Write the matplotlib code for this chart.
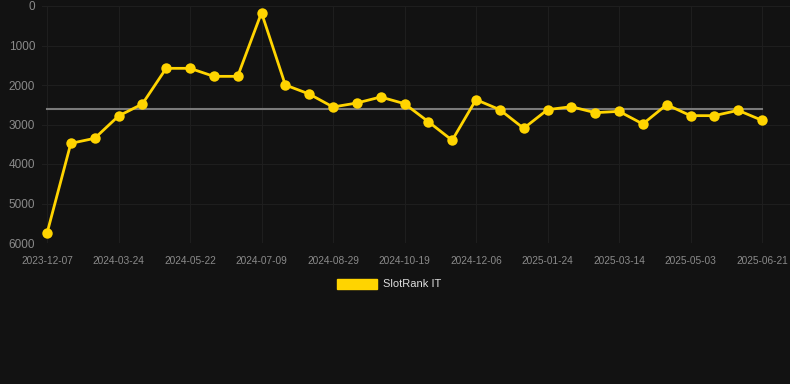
import matplotlib
matplotlib.use("Agg")
import matplotlib.pyplot as plt
from matplotlib.patches import Patch

# Data
ranks = [5755, 3477, 3350, 2785, 2481, 1578, 1578, 1781, 1781, 169,
         2000, 2228, 2557, 2456, 2304, 2473, 2929, 3400, 2371, 2625,
         3097, 2625, 2549, 2701, 2667, 2987, 2498, 2776, 2776, 2641, 2895]
average_rank = 2610
tick_labels = ["2023-12-07", "2024-03-24", "2024-05-22", "2024-07-09", "2024-08-29",
               "2024-10-19", "2024-12-06", "2025-01-24", "2025-03-14", "2025-05-03",
               "2025-06-21"]
series_name = "SlotRank IT"
y_ticks = [0, 1000, 2000, 3000, 4000, 5000, 6000]

BG = "#121212"
GOLD = "#FFD400"
TXT = "#8a8a8a"
GRID = "#1e1e1e"

W, H = 790, 384
fig = plt.figure(figsize=(W / 100, H / 100), dpi=100, facecolor=BG)
left, right, top, bottom = 42, 790, 6, 243
ax = fig.add_axes([left / W, 1 - bottom / H, (right - left) / W, (bottom - top) / H])
ax.set_facecolor(BG)

x = list(range(len(ranks)))
ax.plot([0, len(ranks) - 1], [average_rank, average_rank], color="#7a7a7a", lw=1.5, zorder=2)
ax.plot(x, ranks, color=GOLD, lw=2.0, marker="o", markersize=7.5, markeredgewidth=0, zorder=3)

px_per = (762 - 47) / 30
ax.set_xlim(-(47 - left) / px_per, 30 + (right - 762) / px_per)
ax.set_ylim(6000, 0)

ax.set_yticks(y_ticks)
ax.set_yticklabels([str(v) for v in y_ticks])
tick_pos = list(range(0, len(ranks), 3))
ax.set_xticks(tick_pos)
ax.set_xticklabels(tick_labels)

ax.tick_params(axis="y", length=0, pad=5, labelsize=8.5, labelcolor=TXT)
ax.tick_params(axis="x", length=0, pad=9, labelsize=7.3, labelcolor=TXT)
for lab in ax.get_xticklabels() + ax.get_yticklabels():
    lab.set_fontfamily("Liberation Sans")

ax.grid(True, color=GRID, lw=0.8)
ax.set_axisbelow(True)
for s in ax.spines.values():
    s.set_visible(False)

leg = fig.legend(handles=[Patch(facecolor=GOLD, edgecolor=GOLD)], labels=[series_name],
                 loc="center", bbox_to_anchor=(389 / W, 1 - 284 / H), frameon=False,
                 handlelength=3.6, handleheight=1.0, handletextpad=0.6,
                 prop={"family": "Liberation Sans", "size": 8})
for t in leg.get_texts():
    t.set_color("#dddddd")

fig.savefig("out.png", dpi=100, facecolor=BG)
